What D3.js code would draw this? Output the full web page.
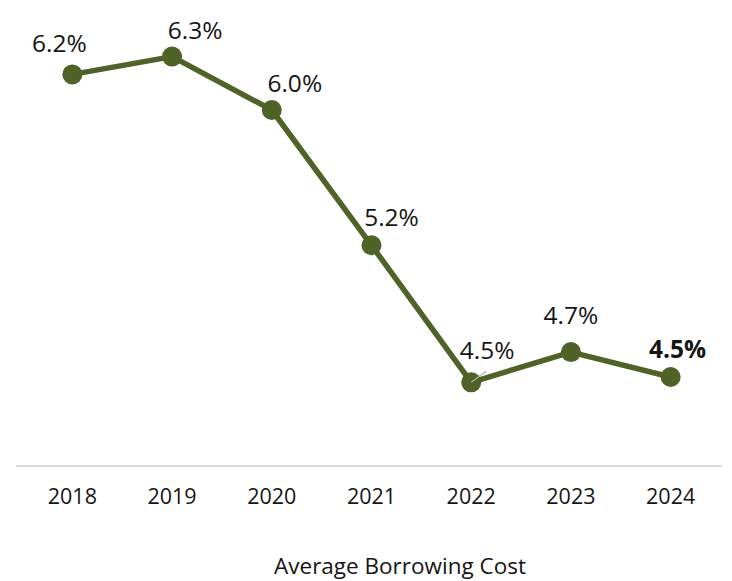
<!DOCTYPE html>
<html lang="en">
<head>
    <meta charset="UTF-8">
    <title>Average Borrowing Cost</title>
    <script src="https://cdn.jsdelivr.net/npm/d3@7"></script>
    <style>
        body { margin: 0; background: #fff; }
        text { font-family: "Open Sans", Lato, sans-serif; fill: #151515; }
        .year { font-size: 21.5px; }
        .val { font-size: 24.5px; }
        .title { font-size: 22.5px; }
    </style>
</head>
<body>
    <svg width="732" height="581"></svg>
    <script>
        // data
        const years = ["2018", "2019", "2020", "2021", "2022", "2023", "2024"];
        const rates = [6.20, 6.30, 6.00, 5.24, 4.47, 4.64, 4.50];
        const rateLabels = ["6.2%", "6.3%", "6.0%", "5.2%", "4.5%", "4.7%", "4.5%"];

        // label nudges relative to each point (dx, dy)
        const labelNudge = [[-13, -22], [23, -18], [23, -18], [20, -19], [16, -23], [0, -28], [7, -19]];

        const svg = d3.select("svg");
        const green = "#4f6228";

        const x = d3.scaleBand().domain(years).range([22.5, 720.5]);
        const y = d3.scaleLinear().domain([4, 6.5]).range([466, 21]);
        const cx = d => x(d) + x.bandwidth() / 2;

        const pts = years.map((yr, i) => ({ yr, v: rates[i], lab: rateLabels[i], i }));

        // baseline
        svg.append("line")
            .attr("x1", 16).attr("x2", 722)
            .attr("y1", y(4)).attr("y2", y(4))
            .attr("stroke", "#d9d9d9").attr("stroke-width", 2);

        // year labels
        svg.append("g").selectAll("text")
            .data(years)
            .join("text")
            .attr("class", "year")
            .attr("x", cx)
            .attr("y", 504)
            .attr("text-anchor", "middle")
            .text(d => d);

        const line = d3.line().x(d => cx(d.yr)).y(d => y(d.v));

        svg.append("path")
            .datum(pts)
            .attr("d", line)
            .attr("fill", "none")
            .attr("stroke", green)
            .attr("stroke-width", 5.5)
            .attr("stroke-linejoin", "round");

        svg.append("g").selectAll("circle")
            .data(pts)
            .join("circle")
            .attr("cx", d => cx(d.yr))
            .attr("cy", d => y(d.v))
            .attr("r", 10)
            .attr("fill", green);

        // leader line for 2022 label
        const p22 = pts[4];
        svg.append("line")
            .attr("x1", cx(p22.yr)).attr("y1", y(p22.v))
            .attr("x2", cx(p22.yr) + 15).attr("y2", y(p22.v) - 11)
            .attr("stroke", "#b0b0b0").attr("stroke-width", 1.2);

        // value labels
        svg.append("g").selectAll("text")
            .data(pts)
            .join("text")
            .attr("class", "val")
            .attr("x", d => cx(d.yr) + labelNudge[d.i][0])
            .attr("y", d => y(d.v) + labelNudge[d.i][1])
            .attr("text-anchor", "middle")
            .attr("font-weight", d => d.i === pts.length - 1 ? "bold" : null)
            .text(d => d.lab);

        svg.append("text")
            .attr("class", "title")
            .attr("x", 400)
            .attr("y", 574)
            .attr("text-anchor", "middle")
            .text("Average Borrowing Cost");
    </script>
</body>
</html>
